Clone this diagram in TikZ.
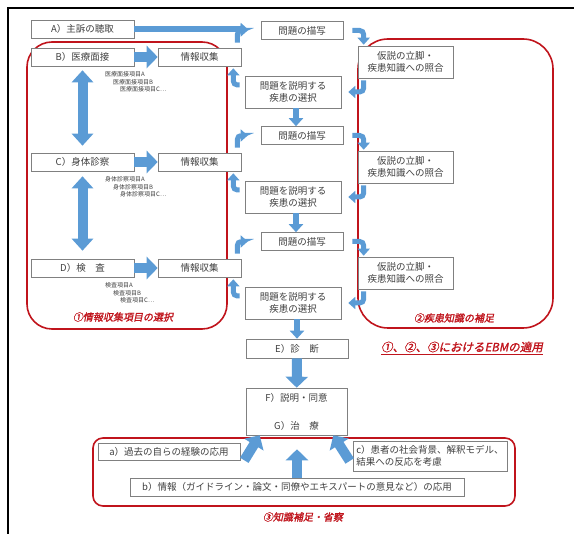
\documentclass[tikz,border=0pt]{standalone}
\usepackage{fontspec}
\setmainfont{Noto Sans CJK JP}
\newfontfamily\redfont[FakeSlant=0.2,FakeBold=1.5]{Noto Sans CJK JP}
\usepackage{xcolor}
\usepackage{tikz}
\usetikzlibrary{arrows.meta}
\definecolor{arrowblue}{RGB}{91,155,213}
\definecolor{framered}{RGB}{192,20,28}
\definecolor{boxgray}{RGB}{128,128,128}
\definecolor{txtgray}{RGB}{64,64,64}

\tikzset{
    tbox/.style={draw=boxgray, line width=0.6pt, fill=white, text=txtgray, font=\fontsize{9.5}{11.5}\selectfont, align=center, inner sep=0pt},
    fatarrow/.style={draw=arrowblue, line width=10pt, -{Triangle[width=22pt,length=11pt]}},
    thinarrow/.style={draw=arrowblue, line width=5pt, -{Triangle[width=12pt,length=7pt]}, rounded corners=4pt},
    downarrow/.style={draw=arrowblue, line width=6pt, -{Triangle[width=14pt,length=8pt]}},
    dblarrow/.style={draw=arrowblue, line width=10pt, {Triangle[width=21pt,length=12pt]}-{Triangle[width=21pt,length=12pt]}},
    redframe/.style={draw=framered, line width=1.6pt},
    redlabel/.style={text=framered, font=\redfont\fontsize{10}{12}\selectfont, inner sep=1pt},
    itemtext/.style={text=txtgray, font=\fontsize{6}{7}\selectfont, anchor=west, inner sep=0pt},
}

\begin{document}
\begin{tikzpicture}[x=1pt,y=-1pt]
    \useasboundingbox (0,0) rectangle (574,534);

    % Outer frame
    \draw[line width=1.8pt] (8,534) -- (8,8) -- (574,8);

    % Red frames
    \draw[redframe, rounded corners=25pt] (27,42) rectangle (227,329);
    \draw[redframe, rounded corners=30pt] (358,39) rectangle (553,328);
    \draw[redframe, rounded corners=10pt] (93,438) rectangle (515,506);

    % Frame labels
    \node[redlabel] (lab1) at (123,317) {①情報収集項目の選択};
    \node[redlabel] (lab2) at (454,318) {②疾患知識の補足};
    \node[redlabel, font=\redfont\fontsize{11.5}{13}\selectfont] (ebm) at (462,348) {\underline{①、②、③におけるEBMの適用}};
    \node[redlabel] (lab3) at (303,517) {③知識補足・省察};

    % Chief complaint
    \node[tbox, minimum width=103pt, minimum height=18pt] (cc) at (82.5,29) {A）主訴の聴取};

    % Three rounds
    \foreach \i/\dy/\lab/\itm in {1/0/B）医療面接/医療面接項目, 2/105/C）身体診察/身体診察項目, 3/211/D）検　査/検査項目} {
        \node[tbox, minimum width=103pt, minimum height=18pt] (src\i) at (82.5,57+\dy) {\lab};
        \node[tbox, minimum width=83pt, minimum height=18pt] (info\i) at (199.5,57+\dy) {情報収集};
        \node[tbox, minimum width=82pt, minimum height=18pt] (des\i) at (302,30.5+\dy) {問題の描写};
        \node[tbox, minimum width=95pt, minimum height=32pt] (hyp\i) at (405.5,62+\dy) {仮説の立脚・\\疾患知識への照合};
        \node[tbox, minimum width=96pt, minimum height=32pt] (sel\i) at (293,92+\dy) {問題を説明する\\疾患の選択};

        % Items
        \node[itemtext] (itA\i) at (105,74+\dy) {\itm A};
        \node[itemtext] (itB\i) at (113,82+\dy) {\itm B};
        \node[itemtext] (itC\i) at (120,89+\dy) {\itm C…};

        % Cycle
        \draw[fatarrow] (src\i) -- (info\i);
        \draw[thinarrow, shorten <=5pt, shorten >=13pt] ([xshift=-4pt]info\i.north east) |- (des\i.west);
        \draw[thinarrow, shorten <=9pt, shorten >=1pt] (des\i.east) -| ([xshift=6pt]hyp\i.north west);
        \draw[thinarrow, shorten <=2pt, shorten >=7pt] ([xshift=6pt]hyp\i.south west) |- (sel\i.east);
        \draw[thinarrow, shorten <=5pt, shorten >=2pt] ([yshift=7pt]sel\i.west) -| ([xshift=-8pt]info\i.south east);
    }

    % Chief complaint to first description
    \draw[thinarrow, line width=6pt, shorten >=13pt] (cc.east) -- (cc.east -| des1.west);

    % Between rounds
    \draw[dblarrow, shorten <=4pt, shorten >=7pt] (src1.south) -- (src2.north);
    \draw[dblarrow, shorten <=5pt, shorten >=8pt] (src2.south) -- (src3.north);
    \draw[downarrow] ([xshift=3pt]sel1.south) -- ([xshift=3pt]sel1.south |- des2.north);
    \draw[downarrow] ([xshift=3pt]sel2.south) -- ([xshift=3pt]sel2.south |- des3.north);

    % Diagnosis and treatment
    \node[tbox, minimum width=102pt, minimum height=19pt] (dx) at (297,348.5) {E）診　断};
    \node[tbox, minimum width=101pt, minimum height=47pt] (fg) at (296.5,411.5) {F）説明・同意\\[16.5pt]G）治　療};
    \draw[downarrow] ([xshift=4pt]sel3.south) -- ([xshift=4pt]sel3.south |- dx.north);
    \draw[fatarrow] (dx) -- (fg);

    % Reflection
    \node[tbox, minimum width=142pt, minimum height=17pt] (ka) at (169,451.5) {a）過去の自らの経験の応用};
    \node[tbox, minimum width=334pt, minimum height=18pt] (kb) at (297,487) {b）情報（ガイドライン・論文・同僚やエキスパートの意見など）の応用};
    \node[tbox, minimum width=154pt, minimum height=30pt, align=left] (kc) at (430,456) {c）患者の社会背景、解釈モデル、\\結果への反応を考慮};
    \draw[fatarrow, shorten >=14pt] (kb.north) -- (kb.north |- fg.south);
    \draw[fatarrow] ([xshift=4pt]ka.south east) -- ([xshift=14pt]fg.south west);
    \draw[fatarrow] ([shift={(-3pt,-5pt)}]kc.west) -- ([xshift=-14pt]fg.south east);
\end{tikzpicture}
\end{document}
